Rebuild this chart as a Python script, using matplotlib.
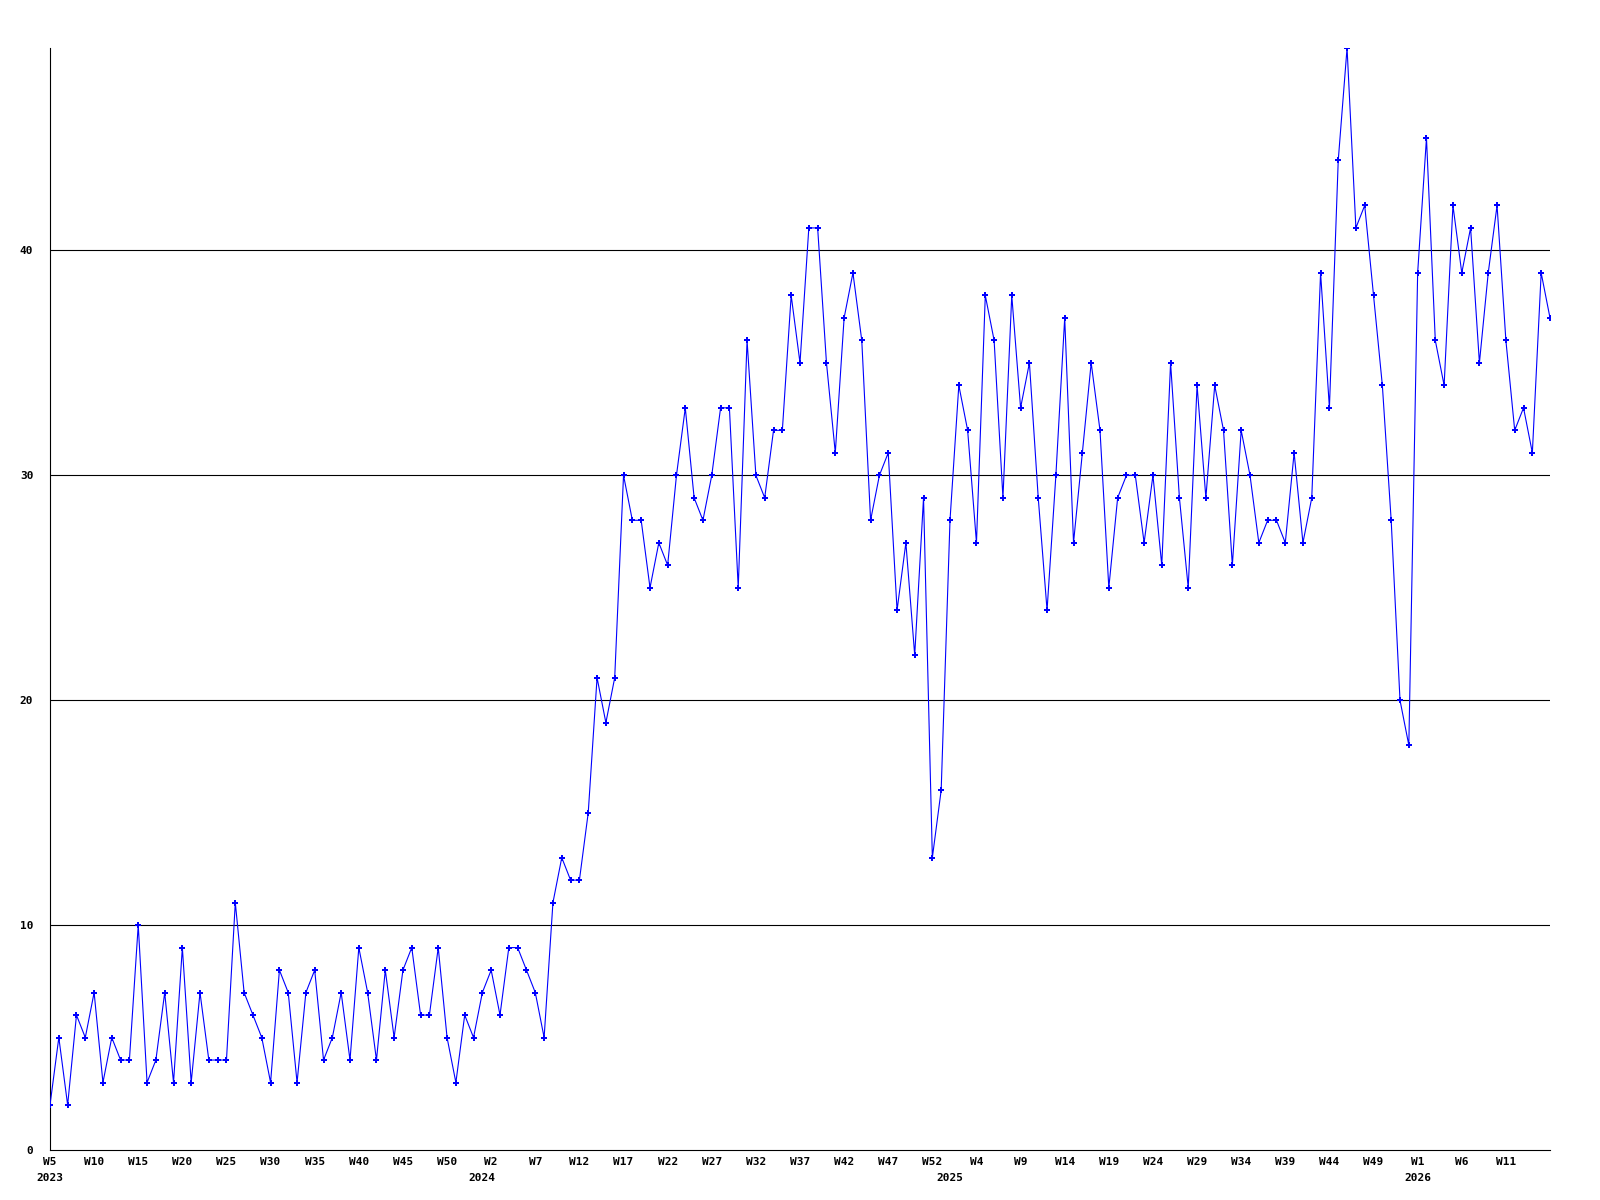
import matplotlib
matplotlib.use("Agg")
import matplotlib.pyplot as plt

# weekly counts, 2023 W5 .. 2026 W16
counts = [
    2, 5, 2, 6, 5, 7, 3, 5, 4, 4, 10, 3, 4, 7, 3, 9, 3, 7, 4, 4,
    4, 11, 7, 6, 5, 3, 8, 7, 3, 7, 8, 4, 5, 7, 4, 9, 7, 4, 8, 5,
    8, 9, 6, 6, 9, 5, 3, 6, 5, 7, 8, 6, 9, 9, 8, 7, 5, 11, 13, 12,
    12, 15, 21, 19, 21, 30, 28, 28, 25, 27, 26, 30, 33, 29, 28, 30, 33, 33, 25, 36,
    30, 29, 32, 32, 38, 35, 41, 41, 35, 31, 37, 39, 36, 28, 30, 31, 24, 27, 22, 29,
    13, 16, 28, 34, 32, 27, 38, 36, 29, 38, 33, 35, 29, 24, 30, 37, 27, 31, 35, 32,
    25, 29, 30, 30, 27, 30, 26, 35, 29, 25, 34, 29, 34, 32, 26, 32, 30, 27, 28, 28,
    27, 31, 27, 29, 39, 33, 44, 49, 41, 42, 38, 34, 28, 20, 18, 39, 45, 36, 34, 42,
    39, 41, 35, 39, 42, 36, 32, 33, 31, 39, 37,
]

# x tick labels, one every 5 weeks
week_labels = [
    "W5", "W10", "W15", "W20", "W25", "W30", "W35", "W40", "W45", "W50",
    "W2", "W7", "W12", "W17", "W22", "W27", "W32", "W37", "W42", "W47", "W52",
    "W4", "W9", "W14", "W19", "W24", "W29", "W34", "W39", "W44", "W49",
    "W1", "W6", "W11",
]
week_step = 5

# year labels and the index of the first week of each year
years = ["2023", "2024", "2025", "2026"]
year_start = [0, 49, 102, 155]

y_ticks = [0, 10, 20, 30, 40]

x = list(range(len(counts)))

fig = plt.figure(figsize=(16, 12), dpi=100)
ax = fig.add_axes([50 / 1600, 1 - 1150 / 1200, 1500 / 1600, 1102 / 1200])

for t in y_ticks[1:]:
    ax.axhline(t, color="black", linewidth=0.8, zorder=1)

ax.plot(x, counts, color="#0000ff", linewidth=0.8, marker="P", markersize=4,
        markeredgewidth=0, zorder=3)

ax.set_xlim(0, len(counts) - 1)
ax.set_ylim(0, 49)

for s in ["top", "right"]:
    ax.spines[s].set_visible(False)
for s in ["left", "bottom"]:
    ax.spines[s].set_color("black")
    ax.spines[s].set_linewidth(0.8)

font = dict(family="DejaVu Sans Mono", weight="bold", size=8)

ax.set_yticks(y_ticks)
ax.set_yticklabels([str(t) for t in y_ticks], **font)
ax.tick_params(axis="y", length=0, pad=12)

ax.set_xticks([i * week_step for i in range(len(week_labels))])
ax.set_xticklabels(week_labels, **font)
ax.tick_params(axis="x", length=0, pad=5)

for yr, i in zip(years, year_start):
    ax.annotate(yr, xy=(i, 0), xycoords=("data", "axes fraction"),
                xytext=(0, -16.5), textcoords="offset points",
                ha="center", va="top", **font)

fig.savefig("out.png", dpi=100)
